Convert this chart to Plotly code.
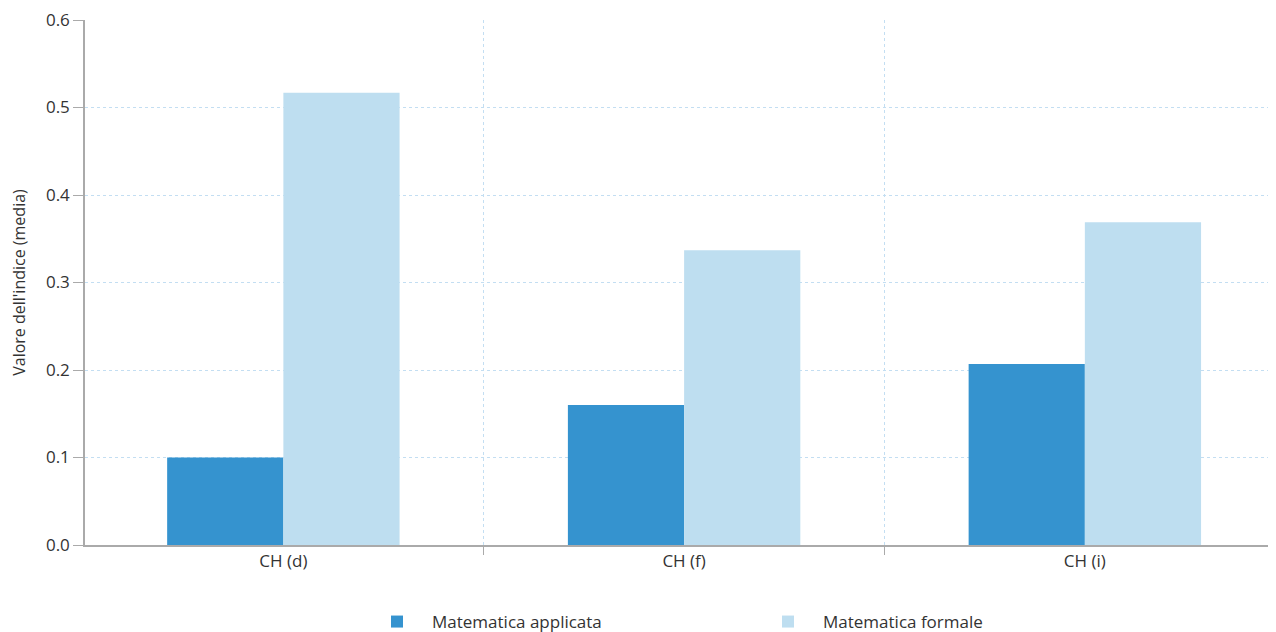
import plotly.graph_objects as go

categories = ["CH (d)", "CH (f)", "CH (i)"]
applicata = [0.100, 0.160, 0.207]
formale = [0.517, 0.337, 0.369]
series_names = ["Matematica applicata", "Matematica formale"]
y_ticks = [0.0, 0.1, 0.2, 0.3, 0.4, 0.5, 0.6]
title_text = "Indice di familiarità con la matematica nelle regioni linguistiche"

FONT = "Open Sans, Noto Sans, sans-serif"

fig = go.Figure()
fig.add_trace(go.Bar(x=categories, y=applicata, name=series_names[0],
                     marker=dict(color="#3593cf", line=dict(width=0))))
fig.add_trace(go.Bar(x=categories, y=formale, name=series_names[1],
                     marker=dict(color="#bedef0", line=dict(width=0))))

fig.update_layout(
    width=1268, height=624,
    margin=dict(l=77, r=0, t=12, b=87),
    plot_bgcolor="white", paper_bgcolor="white",
    barmode="group", bargap=0.42, bargroupgap=0,
    font=dict(family=FONT, size=17, color="#333333"),
    showlegend=True,
    legend=dict(orientation="h", x=(362 - 85) / 1191, xanchor="left",
                yref="container", y=10 / 624, yanchor="middle",
                font=dict(size=17, color="#333333"), entrywidth=316,
                traceorder="normal", itemwidth=60),
    annotations=[dict(text=title_text, xref="paper", yref="paper", x=-0.058, y=1,
                      xanchor="left", yanchor="bottom", yshift=12, showarrow=False,
                      font=dict(size=24, color="#333333", family=FONT))],
)

fig.update_xaxes(
    type="category", range=[-0.495, 2.477],
    tickson="boundaries", ticks="outside", ticklen=8, tickcolor="#aaaaaa", tickwidth=1,
    showgrid=True, gridcolor="#c3def2", griddash="dot", gridwidth=1,
    showline=True, linecolor="#aaaaaa", linewidth=1.5,
    tickfont=dict(size=17, color="#333333"),
)
fig.update_yaxes(
    range=[0, 0.6], tickmode="array", tickvals=y_ticks,
    ticktext=[f"{v:.1f}" for v in y_ticks], ticklabeloverflow="allow",
    ticks="outside", ticklen=10, tickcolor="#aaaaaa",
    showgrid=True, gridcolor="#c3def2", griddash="dot", gridwidth=1,
    showline=True, linecolor="#aaaaaa", linewidth=1.5, zeroline=False,
    tickfont=dict(size=17, color="#333333"),
    title=dict(text="Valore dell'indice (media)", font=dict(size=16, color="#333333"), standoff=18),
)

fig.write_html("out.html")
